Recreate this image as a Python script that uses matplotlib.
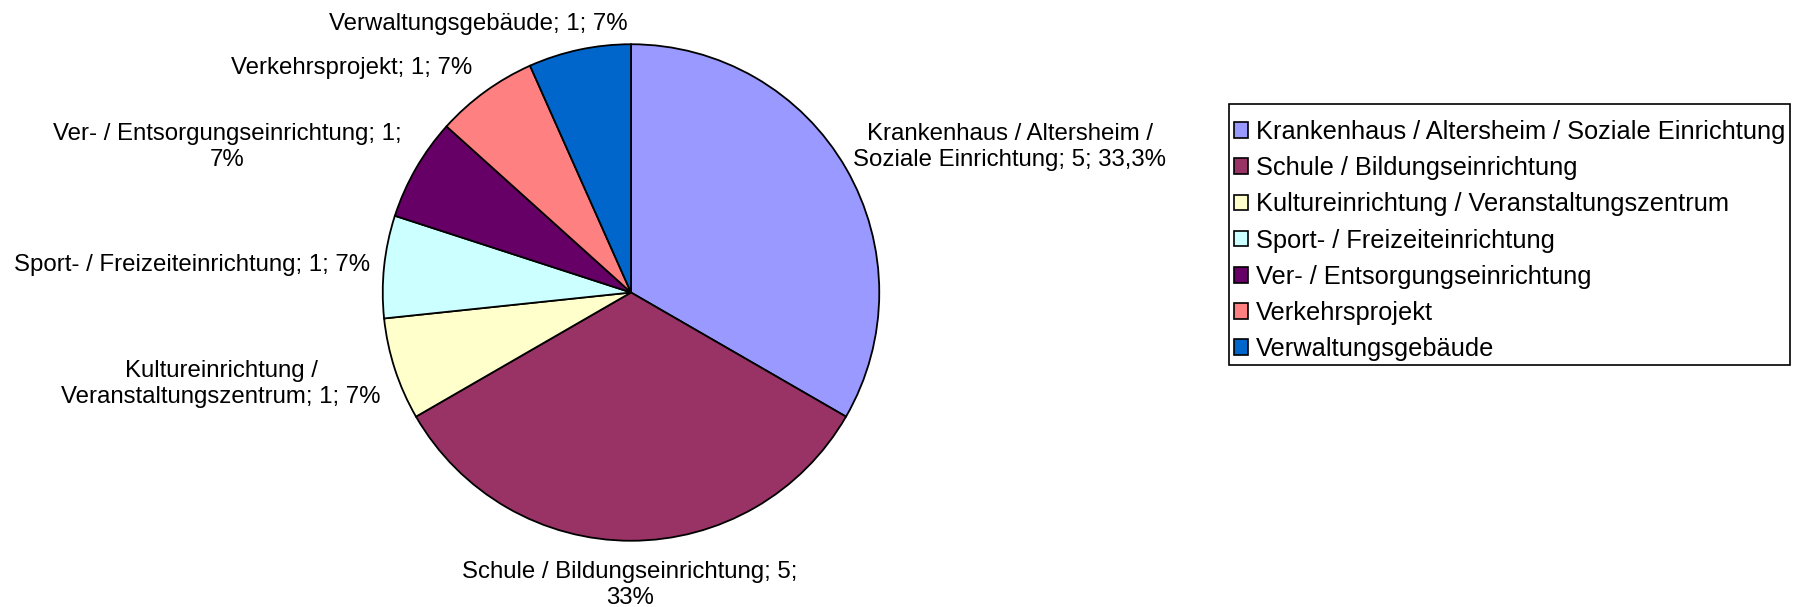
import matplotlib
matplotlib.use("Agg")
import matplotlib.pyplot as plt
from matplotlib.patches import Rectangle

categories = [
    "Krankenhaus / Altersheim / Soziale Einrichtung",
    "Schule / Bildungseinrichtung",
    "Kultureinrichtung / Veranstaltungszentrum",
    "Sport- / Freizeiteinrichtung",
    "Ver- / Entsorgungseinrichtung",
    "Verkehrsprojekt",
    "Verwaltungsgebäude",
]
values = [5, 5, 1, 1, 1, 1, 1]
data_labels = [
    "Krankenhaus / Altersheim /\nSoziale Einrichtung; 5; 33,3%",
    "Schule / Bildungseinrichtung; 5;\n33%",
    "Kultureinrichtung /\nVeranstaltungszentrum; 1; 7%",
    "Sport- / Freizeiteinrichtung; 1; 7%",
    "Ver- / Entsorgungseinrichtung; 1;\n7%",
    "Verkehrsprojekt; 1; 7%",
    "Verwaltungsgebäude; 1; 7%",
]
colors = ["#9999FF", "#993366", "#FFFFCC", "#CCFFFF", "#660066", "#FF8080", "#0066CC"]

# label centre positions in pixels (x from left, y from top)
label_px = [(1010, 147), (630, 585), (221, 384), (192, 265), (227, 147), (352, 68), (478, 24)]

plt.rcParams['font.family'] = ['Liberation Sans', 'DejaVu Sans']
W, H = 1804, 607
fig = plt.figure(figsize=(W / 100, H / 100), dpi=100)
fig.patch.set_facecolor("white")

cx, cy, r = 631, 292.5, 249.5
ax = fig.add_axes([(cx - r) / W, (H - cy - r) / H, 2 * r / W, 2 * r / H])
wedges, _ = ax.pie(values, colors=colors, startangle=90, counterclock=False,
                   radius=1.0, wedgeprops=dict(edgecolor="black", linewidth=1.3))
ax.set_xlim(-1.005, 1.005)
ax.set_ylim(-1.005, 1.005)
ax.set_aspect("equal")
ax.axis("off")

fs_lab = 17.3
for txt, (px, py) in zip(data_labels, label_px):
    fig.text(px / W, 1 - py / H, txt, ha="center", va="center", fontsize=fs_lab,
             linespacing=1.28, color="black")

# legend frame
fig.patches.append(Rectangle((1229 / W, 1 - 365 / H), (1790 - 1229) / W, (365 - 104) / H,
                             transform=fig.transFigure, facecolor="white",
                             edgecolor="black", linewidth=1.2, zorder=1))

fs_leg = 18.3
leg = fig.legend(wedges, categories, loc="upper left",
                 bbox_to_anchor=(1234 / W, 1 - 120 / H), bbox_transform=fig.transFigure,
                 fontsize=fs_leg, frameon=False,
                 handlelength=0.56, handleheight=0.56,
                 handletextpad=0.32, labelspacing=0.48, borderpad=0,
                 borderaxespad=0)
leg.set_zorder(2)
for h in leg.legend_handles:
    h.set_edgecolor("black")
    h.set_linewidth(1.2)

fig.savefig("out.png", dpi=100, facecolor="white")
